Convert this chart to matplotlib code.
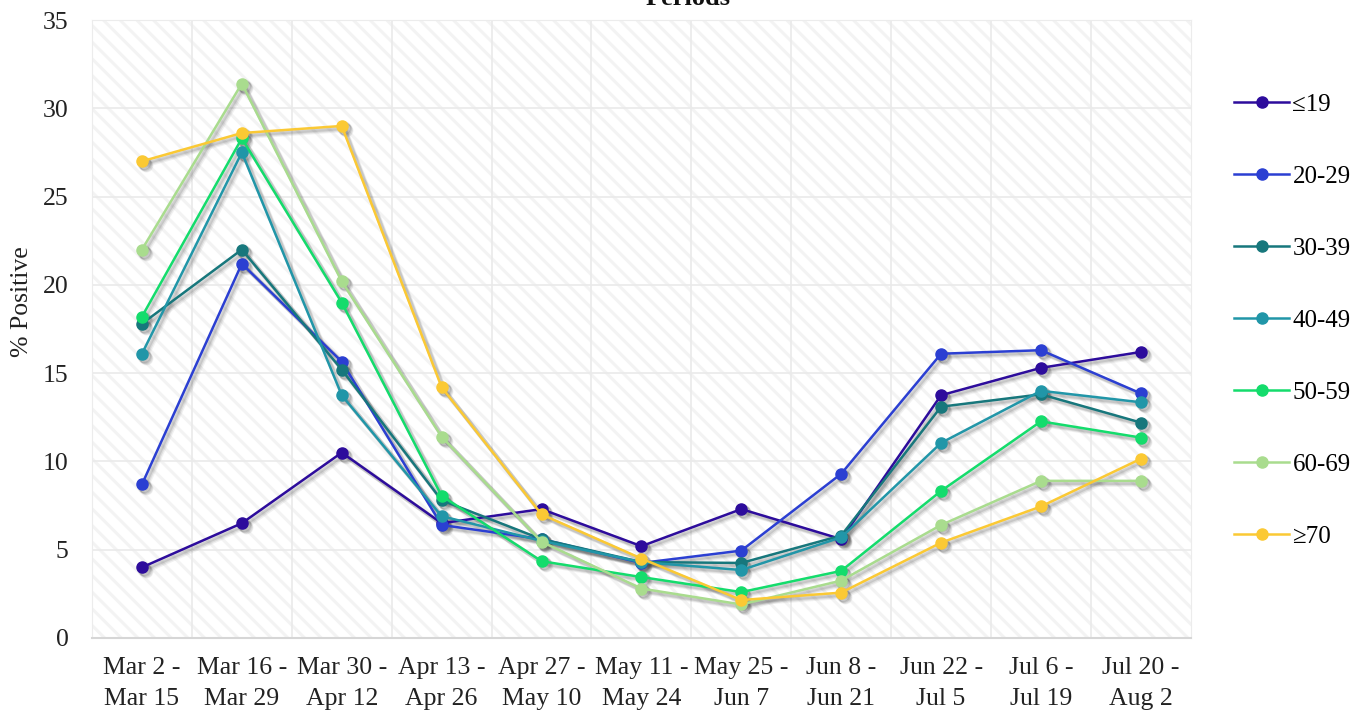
import numpy as np
import matplotlib
matplotlib.use("Agg")
import matplotlib.pyplot as plt
from matplotlib.patches import Rectangle
from matplotlib.transforms import offset_copy

# periods on the x axis
periods = ["Mar 2 -\nMar 15", "Mar 16 -\nMar 29", "Mar 30 -\nApr 12", "Apr 13 -\nApr 26",
           "Apr 27 -\nMay 10", "May 11 -\nMay 24", "May 25 -\nJun 7", "Jun 8 -\nJun 21",
           "Jun 22 -\nJul 5", "Jul 6 -\nJul 19", "Jul 20 -\nAug 2"]

# % positive per age group
age_19 = [4.0, 6.5, 10.5, 6.5, 7.3, 5.2, 7.3, 5.6, 13.75, 15.3, 16.2]
age_20_29 = [8.7, 21.2, 15.65, 6.4, 5.6, 4.25, 4.95, 9.3, 16.1, 16.3, 13.85]
age_30_39 = [17.8, 22.0, 15.2, 7.8, 5.6, 4.3, 4.25, 5.8, 13.1, 13.8, 12.2]
age_40_49 = [16.1, 27.5, 13.75, 6.9, 5.5, 4.3, 3.85, 5.7, 11.05, 14.0, 13.35]
age_50_59 = [18.2, 28.3, 19.0, 8.05, 4.35, 3.45, 2.6, 3.8, 8.33, 12.27, 11.35]
age_60_69 = [22.0, 31.4, 20.2, 11.4, 5.45, 2.8, 1.9, 3.25, 6.4, 8.9, 8.9]
age_70 = [27.0, 28.6, 29.0, 14.2, 7.0, 4.5, 2.15, 2.57, 5.4, 7.45, 10.15]

labels = ["≤19", "20-29", "30-39", "40-49", "50-59", "60-69", "≥70"]
series = [age_19, age_20_29, age_30_39, age_40_49, age_50_59, age_60_69, age_70]
colors = ["#2d0c9c", "#2b3fd2", "#17777c", "#2196a8", "#14dc6c", "#a9dc8e", "#fbc934"]

plt.rcParams['font.family'] = ['Liberation Serif', 'DejaVu Serif']
plt.rcParams['hatch.linewidth'] = 2.2
plt.rcParams['hatch.color'] = '#f3f3f3'

fig = plt.figure(figsize=(13.65, 7.15), dpi=100)
ax = fig.add_axes([0.0674, 0.1077, 0.805, 0.8643])

x = np.arange(len(periods))

# faint striped background
bg = Rectangle((0, 0), 1, 1, transform=ax.transAxes, facecolor='white',
               edgecolor='#f3f3f3', hatch='\\\\', linewidth=0, zorder=0)
ax.add_patch(bg)

# gridlines
for v in np.arange(5, 35, 5):
    ax.axhline(v, color='#eaeaea', lw=1.2, zorder=1)
for b in np.arange(0.5, len(periods) - 1, 1):
    ax.axvline(b, color='#eaeaea', lw=1.2, zorder=1)

# soft shadows first
for s in series:
    for dx, dy, a in [(4, -4, 0.08), (3, -3, 0.12), (2, -2, 0.16)]:
        tr = offset_copy(ax.transData, fig=fig, x=dx, y=dy, units='dots')
        ax.plot(x, s, color='#505050', lw=3.0, marker='o', markersize=9,
                alpha=a, transform=tr, zorder=2, solid_capstyle='round')

for s, c, lab in zip(series, colors, labels):
    ax.plot(x, s, color=c, lw=1.8, marker='o', markersize=8, label=lab, zorder=3)

ax.set_xlim(-0.5, len(periods) - 0.5)
ax.set_ylim(0, 35)
ax.set_xticks(x)
ax.set_xticklabels(periods, fontsize=18.5, linespacing=1.5)
ax.set_yticks(np.arange(0, 36, 5))
ax.tick_params(axis='both', length=0, labelsize=18.5, colors='#222222')
ax.tick_params(axis='y', pad=17)
ax.tick_params(axis='x', pad=14)

for side in ['top', 'left', 'right']:
    ax.spines[side].set_color('#ececec')
ax.spines['bottom'].set_color('#d6d6d6')
ax.spines['bottom'].set_linewidth(1.5)

ax.set_ylabel('% Positive', fontsize=18.5, color='#222222')
ax.yaxis.set_label_coords(-0.054, 0.545)

fig.text(0.504, 0.993, 'Periods', fontsize=19, fontweight='bold', ha='center',
         va='baseline', color='#111111')

ax.legend(loc='center left', bbox_to_anchor=(0.897, 0.552), bbox_transform=fig.transFigure,
          frameon=False, fontsize=18, handlelength=2.2, labelspacing=1.98,
          handletextpad=0.12, borderaxespad=0)

fig.savefig('out.png', dpi=100)
